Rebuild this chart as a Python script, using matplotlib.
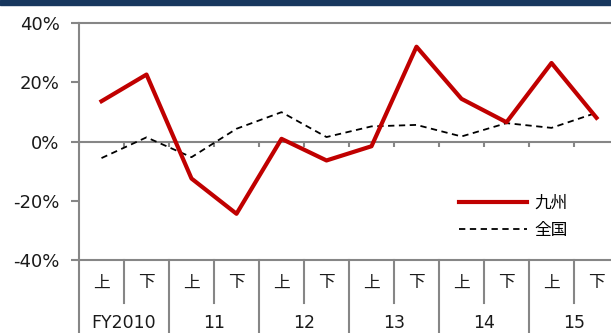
import numpy as np
import matplotlib.pyplot as plt
from matplotlib.patches import Rectangle

halves = ['上', '下'] * 6
years = ['FY2010', '11', '12', '13', '14', '15']

kyushu = [13.6, 22.6, -12.5, -24.4, 0.9, -6.4, -1.6, 32.0, 14.4, 6.5, 26.5, 8.0]
zenkoku = [-5.6, 1.4, -5.3, 4.3, 9.9, 1.5, 5.1, 5.6, 1.7, 6.2, 4.6, 9.7]

grey = '#868686'
jp = ['Noto Sans CJK JP', 'DejaVu Sans']

fig = plt.figure(figsize=(6.11, 3.33), dpi=100)
fig.patches.append(Rectangle((0, 1 - 5 / 333), 1, 5 / 333, transform=fig.transFigure,
                             color='#17375E', zorder=0))

# plot area runs past the right edge of the picture, as in the original
ax = fig.add_axes([79 / 611, 73 / 333, 540 / 611, 237 / 333])
x = np.arange(len(kyushu))
ax.plot(x, kyushu, color='#C00000', lw=3.0, label='九州', zorder=3)
ax.plot(x, zenkoku, color='black', lw=1.3, ls=(0, (3.5, 2.5)), label='全国', zorder=2)

ax.set_xlim(-0.5, len(x) - 0.5)
ax.set_ylim(-40, 40)
ax.set_yticks([-40, -20, 0, 20, 40])
ax.set_yticklabels(['-40%', '-20%', '0%', '20%', '40%'], fontsize=13, color='#1a1a1a')
ax.tick_params(axis='y', length=6, width=1.5, color=grey, pad=8)
ax.set_xticks([])

for s in ['right', 'bottom']:
    ax.spines[s].set_visible(False)
for s in ['left', 'top']:
    ax.spines[s].set_color(grey)
    ax.spines[s].set_linewidth(1.5)

# zero line with downward tick marks at category boundaries
ax.axhline(0, color=grey, lw=1.5, zorder=1)
bounds = np.arange(len(x) + 1) - 0.5
ax.vlines(bounds, -2.0, 0, color=grey, lw=1.5, zorder=1)

# category table under the plot
trans = ax.get_xaxis_transform()
ax.plot([-0.5, len(x) - 0.5], [0, 0], transform=trans, color=grey, lw=1.5, clip_on=False)
for i, b in enumerate(bounds):
    low = -0.31 if i % 2 == 0 else -0.18
    ax.plot([b, b], [0, low], transform=trans, color=grey, lw=1.5, clip_on=False)
for i, h in enumerate(halves):
    ax.text(i, -0.097, h, transform=trans, ha='center', va='center',
            fontsize=12, family=jp, color='#1a1a1a')
for j, yr in enumerate(years):
    ax.text(2 * j + 0.5, -0.265, yr, transform=trans, ha='center', va='center',
            fontsize=12.5, color='#1a1a1a')

leg = ax.legend(loc='center left', bbox_to_anchor=(0.704, 0.181), frameon=False,
                prop={'family': jp, 'size': 12}, handlelength=4.1, handletextpad=0.4,
                labelspacing=0.6, borderaxespad=0, borderpad=0)

fig.savefig('out.png', dpi=100)
